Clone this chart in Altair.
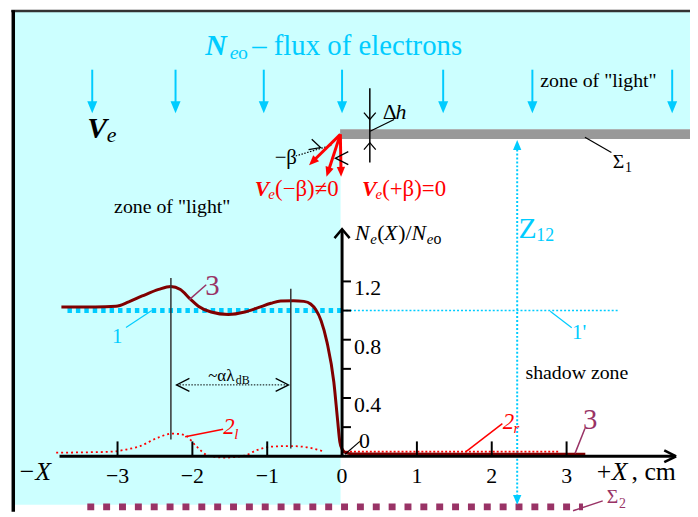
import altair as alt
import pandas as pd
import numpy as np

# ---------------- colours / fonts ----------------
CYAN = "#00CCFF"
BG = "#CCFFFF"
RED = "#FF0000"
MAROON = "#800000"
PURPLE = "#993366"
GRAY = "#999999"
BLACK = "#000000"
FONT = "Liberation Serif, Times New Roman, DejaVu Serif, serif"

# ---------------- plot geometry ----------------
W, H = 688, 506
PX, PY = 75.5, 147.0          # pixels per cm, pixels per unit of Ne/Neo
XDOM = [-337 / PX, 351 / PX]
YDOM = [-56 / PY, 450 / PY]

# ---------------- data (x in cm, y = Ne(X)/Neo) ----------------
c3_x = [-3.75, -3.3, -3.02, -2.85, -2.67, -2.45, -2.29, -2.16, -2.03, -1.92, -1.75, -1.52,
        -1.3, -1.13, -0.95, -0.82, -0.65, -0.51, -0.42, -0.35, -0.28, -0.2, -0.11, -0.06,
        -0.03, 0.0, 0.05, 0.15, 3.25]
c3_y = [1.025, 1.025, 1.03, 1.06, 1.10, 1.145, 1.165, 1.145, 1.08, 1.03, 0.99, 0.973,
        0.99, 1.018, 1.05, 1.066, 1.068, 1.063, 1.045, 1.005, 0.93, 0.78, 0.51, 0.25,
        0.1, 0.05, 0.025, 0.016, 0.014]

c2l_x = [-3.82, -3.45, -3.07, -2.9, -2.72, -2.45, -2.27, -2.1, -1.95, -1.79, -1.57, -1.3,
         -1.15, -0.95, -0.68, -0.45, -0.24]
c2l_y = [0.025, 0.027, 0.032, 0.045, 0.066, 0.13, 0.156, 0.145, 0.07, 0.005, -0.009, 0.005,
         0.04, 0.066, 0.07, 0.06, 0.032]

c2r_x = [0.0, 2.91]
c2r_y = [0.032, 0.032]

lvl1_x = [-3.669, 0.0]
lvl1_y = [1.0, 1.0]
lvl1p_x = [0.0, 3.709]
lvl1p_y = [1.0, 1.0]

sig2_x = [-3.404, 3.219]
sig2_y = [-0.347, -0.347]

x_ticks = [-3, -2, -1, 1, 2, 3]
x_lab_vals = [-3, -2, -1, 0, 1, 2, 3]
x_labels = ["−3", "−2", "−1", "0", "1", "2", "3"]
y_ticks = [0.2, 0.4, 0.6, 0.8, 1.0, 1.2]
y_lab_vals = [0.4, 0.8, 1.2]
y_labels = ["0.4", "0.8", "1.2"]

flux_x = [-3.338, -2.225, -1.046, 0.0, 1.351, 2.543, 4.411]
flux_top = 2.653
flux_tip = 2.354

corner = (-0.023, 2.209)
vel_tip_x = [-0.441, -0.208, -0.013]
vel_tip_y = [1.998, 1.918, 1.918]

z12_x = 2.340
z12_lo, z12_hi = -0.333, 2.170

x_axis_end = 4.464
y_axis_end = 1.558

# ---------------- scales ----------------
xs = alt.Scale(domain=XDOM, nice=False, zero=False)
ys = alt.Scale(domain=YDOM, nice=False, zero=False)


def ex(f="x"):
    return alt.X(f"{f}:Q", scale=xs, axis=None)


def ey(f="y"):
    return alt.Y(f"{f}:Q", scale=ys, axis=None)


layers = []

# ---------------- zones ----------------
zones = pd.DataFrame({
    "x": [-4.397, -4.397, -0.026],
    "x2": [-0.02, XDOM[1], XDOM[1]],
    "y": [-0.333, 2.245, 2.177],
    "y2": [3.05, 3.05, 2.245],
    "c": [BG, BG, GRAY],
})
layers.append(alt.Chart(zones).mark_rect().encode(
    x=ex(), x2="x2:Q", y=ey(), y2="y2:Q", color=alt.Color("c:N", scale=None)))

# ---------------- solid segments ----------------
segs = [
    # frame
    (-4.42, YDOM[1] - 0.005, XDOM[1], YDOM[1] - 0.005, "#333333", 2.5),
    (-4.393, YDOM[0], -4.393, YDOM[1], BLACK, 3.5),
    # vertical markers
    (-2.287, 0.116, -2.287, 1.224, "#333333", 1.5),
    (-0.685, 0.054, -0.685, 1.150, "#333333", 1.5),
    # leaders
    (-2.04, 1.075, -1.815, 1.177, PURPLE, 1.5),
    (-2.887, 0.884, -2.543, 1.0, CYAN, 1.2),
    (-2.097, 0.134, -1.589, 0.186, RED, 1.5),
    (1.656, 0.032, 2.142, 0.224, RED, 1.5),
    (3.113, 0.020, 3.245, 0.190, PURPLE, 1.5),
    (2.781, 0.995, 3.069, 0.882, CYAN, 1.2),
    (3.245, 2.190, 3.599, 2.084, BLACK, 1.2),
    (3.086, -0.374, 3.483, -0.306, PURPLE, 1.5),
    (0.375, 2.231, 0.695, 2.311, BLACK, 1.2),
    (0.040, 0.014, 0.238, 0.102, BLACK, 1.2),
    # delta h
    (0.371, 2.016, 0.371, 2.526, BLACK, 1.5),
    # x-axis arrowhead
    (x_axis_end - 12 / PX, 6 / PY, x_axis_end, 0.0, BLACK, 2.5),
    (x_axis_end - 12 / PX, -6 / PY, x_axis_end, 0.0, BLACK, 2.5),
]
seg_df = pd.DataFrame(segs, columns=["x", "y", "x2", "y2", "c", "w"])


def dotted(xa, ya, xb, yb, color, width, dash):
    d = pd.DataFrame({"x": [xa], "y": [ya], "x2": [xb], "y2": [yb]})
    return alt.Chart(d).mark_rule(color=color, strokeWidth=width, strokeDash=dash).encode(
        x=ex(), y=ey(), x2="x2:Q", y2="y2:Q")


# level lines 1 and 1'
layers.append(alt.Chart(pd.DataFrame({"x": lvl1p_x, "y": lvl1p_y})).mark_line(
    color=CYAN, strokeWidth=1.5, strokeDash=[2, 2]).encode(x=ex(), y=ey()))
layers.append(alt.Chart(pd.DataFrame({"x": lvl1_x, "y": lvl1_y})).mark_line(
    color=CYAN, strokeWidth=5, strokeDash=[4.5, 4]).encode(x=ex(), y=ey()))

# sigma 2 plane
layers.append(alt.Chart(pd.DataFrame({"x": sig2_x, "y": sig2_y})).mark_line(
    color=PURPLE, strokeWidth=7, strokeDash=[7, 9]).encode(x=ex(), y=ey()))

# Z12
layers.append(dotted(z12_x, z12_lo + 0.03, z12_x, z12_hi - 0.03, CYAN, 2, [2, 2]))

# other dotted
layers.append(dotted(-2.212, 0.490, -0.715, 0.490, BLACK, 1, [1.5, 1.5]))
layers.append(dotted(-0.619, 2.061, -0.14, 2.135, BLACK, 1.2, [1.5, 1.5]))

# ---------------- curves ----------------
layers.append(alt.Chart(pd.DataFrame({"x": c2l_x, "y": c2l_y})).mark_line(
    color=RED, strokeWidth=1.8, strokeDash=[2, 3], interpolate="monotone").encode(x=ex(), y=ey()))
layers.append(alt.Chart(pd.DataFrame({"x": c2r_x, "y": c2r_y})).mark_line(
    color=RED, strokeWidth=1.8, strokeDash=[2, 2]).encode(x=ex(), y=ey()))
layers.append(alt.Chart(pd.DataFrame({"x": c3_x, "y": c3_y})).mark_line(
    color=MAROON, strokeWidth=3, interpolate="monotone").encode(x=ex(), y=ey()))

# ---------------- axes ----------------
axes = pd.DataFrame({
    "x": [-3.775, 0.0], "y": [0.0, 0.0], "x2": [x_axis_end - 1 / PX, 0.0], "y2": [0.0, 1.551]})
layers.append(alt.Chart(axes).mark_rule(color=BLACK, strokeWidth=3).encode(
    x=ex(), y=ey(), x2="x2:Q", y2="y2:Q"))

layers.append(alt.Chart(seg_df).mark_rule().encode(
    x=ex(), y=ey(), x2="x2:Q", y2="y2:Q",
    color=alt.Color("c:N", scale=None), strokeWidth=alt.StrokeWidth("w:Q", scale=None)))

xt = pd.DataFrame({"x": x_ticks})
xt["y"] = 0.0
xt["y2"] = 0.102
layers.append(alt.Chart(xt).mark_rule(color=BLACK, strokeWidth=2).encode(
    x=ex(), y=ey(), y2="y2:Q"))
yt = pd.DataFrame({"y": y_ticks})
yt["x"] = 0.0
yt["x2"] = 0.119
layers.append(alt.Chart(yt).mark_rule(color=BLACK, strokeWidth=2).encode(
    x=ex(), x2="x2:Q", y=ey()))

xl = pd.DataFrame({"x": x_lab_vals, "t": x_labels})
xl["y"] = -0.184
layers.append(alt.Chart(xl).mark_text(font=FONT, fontSize=22, align="center",
                                      baseline="alphabetic").encode(x=ex(), y=ey(), text="t:N"))
yl = pd.DataFrame({"y": y_lab_vals, "t": y_labels})
yl["x"] = 0.159
layers.append(alt.Chart(yl).mark_text(font=FONT, fontSize=22, align="left", baseline="alphabetic",
                                      dy=14).encode(x=ex(), y=ey(), text="t:N"))

# ---------------- arrows ----------------
fl = pd.DataFrame({"x": flux_x})
fl["y"] = flux_top
fl["y2"] = flux_tip + 6 / PY
layers.append(alt.Chart(fl).mark_rule(color=CYAN, strokeWidth=2).encode(
    x=ex(), y=ey(), y2="y2:Q"))

# velocity arrows
vdx = (np.array(vel_tip_x) - corner[0]) * PX
vdy = -(np.array(vel_tip_y) - corner[1]) * PY
vlen = np.hypot(vdx, vdy)
vang = (np.degrees(np.arctan2(vdx, -vdy)) + 360) % 360
vel = pd.DataFrame({
    "x": corner[0], "y": corner[1],
    "x2": np.array(vel_tip_x) - vdx / vlen * 7 / PX,
    "y2": np.array(vel_tip_y) + vdy / vlen * 7 / PY,
})
layers.append(alt.Chart(vel).mark_rule(color=RED, strokeWidth=3).encode(
    x=ex(), y=ey(), x2="x2:Q", y2="y2:Q"))

TRI = "M 0 0 L -0.42 1 L 0.42 1 Z"
heads = pd.DataFrame({
    "x": list(flux_x) + list(vel_tip_x) + [z12_x, z12_x],
    "y": [flux_tip] * len(flux_x) + list(vel_tip_y) + [z12_hi, z12_lo],
    "a": [180] * len(flux_x) + list(vang) + [0, 180],
    "s": [576] * len(flux_x) + [400] * 3 + [400, 400],
    "c": [CYAN] * len(flux_x) + [RED] * 3 + [CYAN, CYAN],
})
layers.append(alt.Chart(heads).mark_point(shape=TRI, filled=True, opacity=1, strokeWidth=0).encode(
    x=ex(), y=ey(), angle=alt.Angle("a:Q", scale=None), size=alt.Size("s:Q", scale=None),
    color=alt.Color("c:N", scale=None)))

NARROW = "M -0.5 1 L 0 0 L 0.5 1"
WIDE = "M -0.85 1 L 0 0 L 0.85 1"
chev_n = pd.DataFrame({
    "x": [-2.212, -0.715, -0.287, -0.089],
    "y": [0.490, 0.490, 2.118, 2.046],
    "a": [270, 90, 107, 270],
    "s": [676, 676, 484, 676],
    "w": [1.3, 1.3, 1.3, 1.3],
})
chev_w = pd.DataFrame({
    "x": [0.0, 0.371, 0.371],
    "y": [y_axis_end, 2.311, 2.152],
    "a": [0, 180, 0],
    "s": [324, 196, 196],
    "w": [2.5, 1.3, 1.3],
})
for shp, d in ((NARROW, chev_n), (WIDE, chev_w)):
    layers.append(alt.Chart(d).mark_point(shape=shp, filled=False, opacity=1, color=BLACK).encode(
        x=ex(), y=ey(), angle=alt.Angle("a:Q", scale=None), size=alt.Size("s:Q", scale=None),
        strokeWidth=alt.StrokeWidth("w:Q", scale=None)))

# ---------------- texts ----------------
N_, I_ = "normal", "italic"
texts = [
    # title
    ("N", -1.828, 2.755, 30, CYAN, I_, "bold"),
    ("e", -1.50, 2.728, 20, CYAN, I_, N_),
    ("o", -1.39, 2.728, 20, CYAN, N_, N_),
    ("– flux of electrons", -1.20, 2.755, 29, CYAN, N_, N_),
    # Ve
    ("V", -3.404, 2.184, 30, BLACK, I_, "bold"),
    ("e", -3.145, 2.156, 22, BLACK, I_, N_),
    # zones
    ('zone of "light"', -3.046, 1.667, 20, BLACK, N_, N_),
    ('zone of "light"', 2.649, 2.537, 20, BLACK, N_, N_),
    ("shadow zone", 2.450, 0.531, 20, BLACK, N_, N_),
    # beta
    ("−β", -0.901, 2.007, 21, BLACK, N_, N_),
    ("V", -1.166, 1.789, 22, RED, I_, "bold"),
    ("e", -0.985, 1.769, 15, RED, I_, N_),
    ("(−β)≠0", -0.895, 1.789, 23, RED, N_, N_),
    ("V", 0.265, 1.789, 22, RED, I_, "bold"),
    ("e", 0.446, 1.769, 15, RED, I_, N_),
    ("(+β)=0", 0.536, 1.789, 23, RED, N_, N_),
    # delta h, sigma 1
    ("Δ", 0.543, 2.313, 22, BLACK, N_, N_),
    ("h", 0.715, 2.313, 22, BLACK, I_, N_),
    ("Σ", 3.616, 1.980, 20, BLACK, N_, N_),
    ("1", 3.78, 1.952, 14, BLACK, N_, N_),
    # y axis title
    ("N", 0.172, 1.483, 22, BLACK, I_, N_),
    ("e", 0.375, 1.456, 15, BLACK, I_, N_),
    ("(", 0.47, 1.483, 22, BLACK, N_, N_),
    ("X", 0.56, 1.483, 22, BLACK, I_, N_),
    (")/", 0.75, 1.483, 22, BLACK, N_, N_),
    ("N", 0.927, 1.483, 22, BLACK, I_, N_),
    ("e", 1.13, 1.456, 15, BLACK, I_, N_),
    ("o", 1.222, 1.456, 16, BLACK, N_, N_),
    # Z12
    ("Z", 2.358, 1.497, 30, CYAN, N_, N_),
    ("12", 2.596, 1.476, 18, CYAN, N_, N_),
    # curve labels
    ("3", -1.828, 1.109, 29, PURPLE, N_, N_),
    ("3", 3.219, 0.190, 29, PURPLE, N_, N_),
    ("1", -3.073, 0.776, 21, CYAN, N_, N_),
    ("1'", 3.073, 0.803, 21, CYAN, N_, N_),
    ("2", -1.589, 0.150, 23, RED, I_, N_),
    ("l", -1.44, 0.122, 15, RED, I_, N_),
    ("2", 2.146, 0.190, 23, RED, I_, N_),
    ("r", 2.29, 0.163, 15, RED, I_, N_),
    ("Σ", 3.536, -0.320, 20, PURPLE, N_, N_),
    ("2", 3.70, -0.354, 14, PURPLE, N_, N_),
    ("~αλ", -1.788, 0.517, 17, BLACK, N_, N_),
    ("dB", -1.42, 0.497, 12, BLACK, N_, N_),
    ("0", 0.225, 0.054, 22, BLACK, N_, N_),
    # axis names
    ("−", -4.305, -0.163, 26, BLACK, N_, N_),
    ("X", -4.10, -0.163, 26, BLACK, I_, N_),
    ("+", 3.404, -0.163, 26, BLACK, N_, N_),
    ("X", 3.603, -0.163, 26, BLACK, I_, N_),
    (", cm", 3.868, -0.163, 26, BLACK, N_, N_),
]
tdf = pd.DataFrame(texts, columns=["t", "x", "y", "s", "c", "st", "wt"])
for (st, wt), sub in tdf.groupby(["st", "wt"]):
    layers.append(alt.Chart(sub.reset_index(drop=True)).mark_text(
        align="left", baseline="alphabetic", font=FONT, fontStyle=st, fontWeight=wt).encode(
        x=ex(), y=ey(), text="t:N", size=alt.Size("s:Q", scale=None),
        color=alt.Color("c:N", scale=None)))

chart = alt.layer(*layers).properties(
    width=W, height=H, padding=0, autosize=alt.AutoSizeParams(type="none"),
    background="white",
).configure_view(stroke=None)

chart.save("out.html", embed_options={"renderer": "svg", "actions": False})
